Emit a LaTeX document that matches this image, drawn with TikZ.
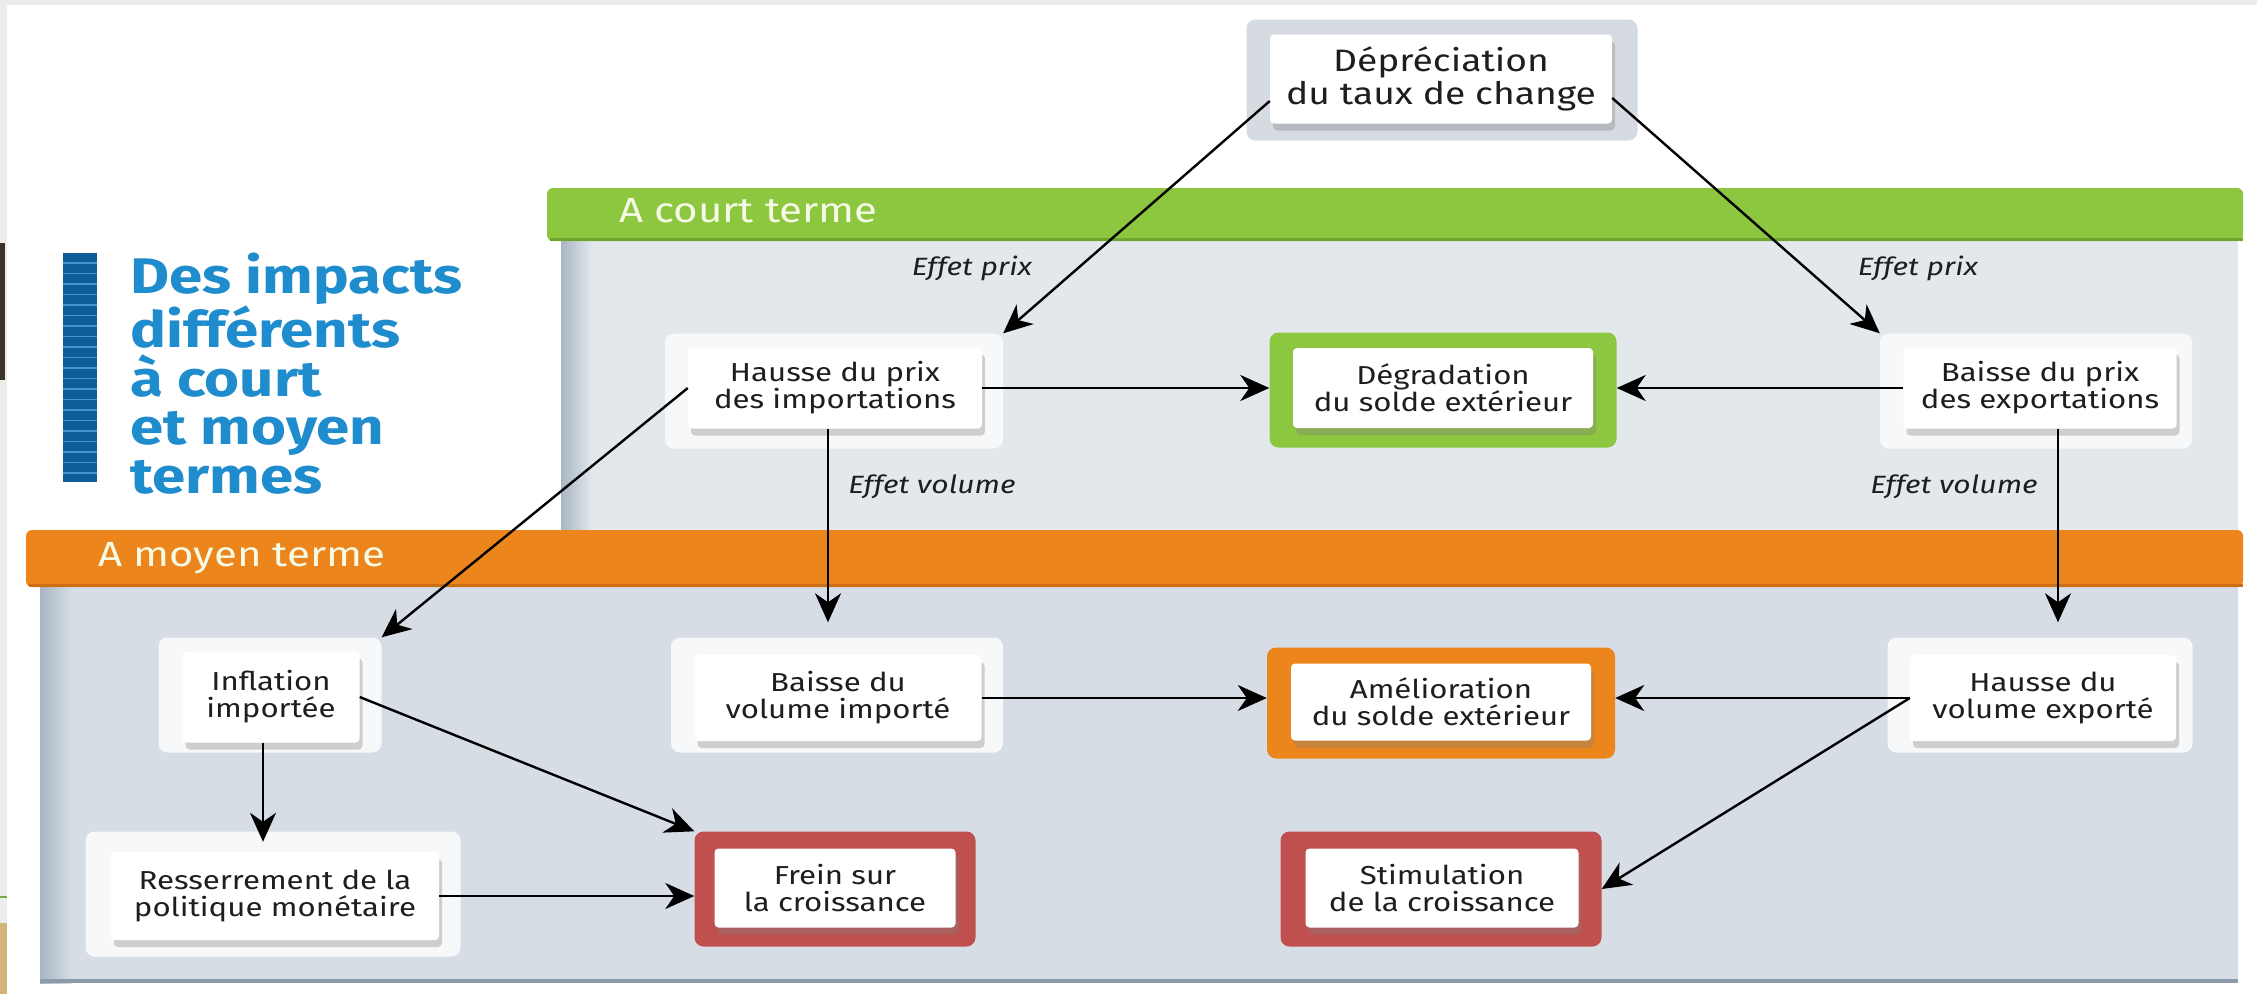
\documentclass[tikz,border=0pt]{standalone}
\usepackage{fontspec}
\setmainfont{Fira Sans}[FakeStretch=1.2]
\usetikzlibrary{arrows.meta,shadows}

\definecolor{titleblue}{RGB}{30,140,205}
\definecolor{barblue}{RGB}{14,92,152}
\definecolor{stripeblue}{RGB}{70,150,205}
\definecolor{courtgreen}{RGB}{141,198,63}
\definecolor{greenedge}{RGB}{112,165,45}
\definecolor{moyenorange}{RGB}{236,134,28}
\definecolor{orangeedge}{RGB}{205,110,20}
\definecolor{freinred}{RGB}{192,80,77}
\definecolor{depgray}{RGB}{214,219,225}
\definecolor{paleframe}{RGB}{247,248,249}
\definecolor{courtpanel}{RGB}{227,232,237}
\definecolor{moyenpanel}{RGB}{214,221,229}
\definecolor{paneledge}{RGB}{168,181,195}
\definecolor{panelline}{RGB}{140,155,170}
\definecolor{boxtext}{RGB}{30,30,30}
\definecolor{headtext}{RGB}{245,250,228}
\definecolor{edgegray}{RGB}{236,236,236}
\definecolor{slidebrown}{RGB}{60,50,40}
\definecolor{slidetan}{RGB}{210,180,120}
\definecolor{slidegreen}{RGB}{130,170,60}

\tikzset{
  frame/.style={rounded corners=9pt, inner sep=0pt},
  inbox/.style={fill=white, rounded corners=4pt, inner sep=0pt, align=center, text=boxtext,
    font=\fontsize{26}{27}\selectfont,
    drop shadow={shadow xshift=3pt, shadow yshift=-7pt, opacity=0.35}},
  arr/.style={-{Stealth[length=29pt,width=26pt,inset=9pt]}, line width=2.4pt},
  effet/.style={font=\itshape\fontsize{25}{25}\selectfont, text=boxtext},
  termhead/.style={font=\fontsize{35}{35}\selectfont, text=headtext, anchor=base west, inner sep=0pt}
}

\begin{document}
\begin{tikzpicture}[x=1pt,y=-1pt]
  \useasboundingbox (0,0) rectangle (2257,994);
  \fill[white] (0,0) rectangle (2257,994);
  \fill[edgegray] (0,0) rectangle (2257,5);
  \fill[edgegray] (0,0) rectangle (7,994);
  \fill[slidebrown] (0,243) rectangle (5,380);
  \draw[slidegreen, line width=2pt] (0,897) -- (7,897);
  \fill[slidetan] (0,923) rectangle (7,994);

  \fill[barblue] (63,253) rectangle (97,482);
  \foreach \y in {263,273.5,...,480}
    \draw[stripeblue, line width=1.2pt] (63,\y) -- (97,\y);
  \node[anchor=north west, align=left, inner sep=0pt, text=titleblue,
    font=\bfseries\fontsize{50}{48.6}\selectfont] (titre) at (130,253)
    {Des impacts\\différents\\à court\\et moyen\\termes};

  \fill[courtpanel] (561,237) rectangle (2238,540);
  \shade[left color=paneledge, right color=courtpanel] (561,237) rectangle (592,540);
  \fill[courtgreen, rounded corners=6pt] (547,188) rectangle (2243,241);
  \draw[greenedge, line width=3pt] (550,239) -- (2243,239);
  \node[termhead] (court) at (619,222) {A court terme};

  \fill[moyenpanel] (40,584) rectangle (2238,983);
  \shade[left color=paneledge, right color=moyenpanel] (40,584) rectangle (72,983);
  \draw[panelline, line width=4pt] (40,981) -- (2238,981);
  \fill[moyenorange, rounded corners=6pt] (26,530) rectangle (2243,587);
  \draw[orangeedge, line width=3pt] (29,585) -- (2243,585);
  \node[termhead] (moyen) at (98,566) {A moyen terme};

  \node[frame, fill=depgray, minimum width=391pt, minimum height=121pt] (depF) at (1442,80) {};
  \node[inbox, minimum width=342pt, minimum height=89pt, font=\fontsize{31}{33}\selectfont] (dep) at (1441,79) {Dépréciation\\du taux de change};

  \node[frame, fill=paleframe, minimum width=338pt, minimum height=115pt] (himpF) at (834,391) {};
  \node[inbox, minimum width=294pt, minimum height=81pt] (himp) at (835,388) {Hausse du prix\\des importations};
  \node[frame, fill=courtgreen, minimum width=347pt, minimum height=115pt] (degF) at (1443,390) {};
  \node[inbox, minimum width=300pt, minimum height=80pt] (deg) at (1443,388) {Dégradation\\du solde extérieur};
  \node[frame, fill=paleframe, minimum width=312pt, minimum height=115pt] (bexpF) at (2036,391) {};
  \node[inbox, minimum width=273pt, minimum height=81pt] (bexp) at (2040,388) {Baisse du prix\\des exportations};

  \node[frame, fill=paleframe, minimum width=223pt, minimum height=115pt] (inflF) at (270,695) {};
  \node[inbox, minimum width=177pt, minimum height=91pt] (infl) at (271,697) {Inflation\\importée};
  \node[frame, fill=paleframe, minimum width=332pt, minimum height=115pt] (bvolF) at (837,695) {};
  \node[inbox, minimum width=287pt, minimum height=86pt] (bvol) at (838,698) {Baisse du\\volume importé};
  \node[frame, fill=moyenorange, minimum width=348pt, minimum height=111pt] (amelF) at (1441,703) {};
  \node[inbox, minimum width=300pt, minimum height=77pt] (amel) at (1441,702) {Amélioration\\du solde extérieur};
  \node[frame, fill=paleframe, minimum width=305pt, minimum height=115pt] (hvolF) at (2040,695) {};
  \node[inbox, minimum width=266pt, minimum height=86pt] (hvol) at (2043,698) {Hausse du\\volume exporté};

  \node[frame, fill=paleframe, minimum width=375pt, minimum height=125pt] (ressF) at (273,894) {};
  \node[inbox, minimum width=328pt, minimum height=88pt] (ress) at (275,896) {Resserrement de la\\politique monétaire};
  \node[frame, fill=freinred, minimum width=281pt, minimum height=115pt] (freinF) at (835,889) {};
  \node[inbox, minimum width=241pt, minimum height=79pt] (frein) at (835,888) {Frein sur\\la croissance};
  \node[frame, fill=freinred, minimum width=321pt, minimum height=115pt] (stimF) at (1441,889) {};
  \node[inbox, minimum width=273pt, minimum height=79pt] (stim) at (1442,888) {Stimulation\\de la croissance};

  \node[effet] (prixG) at (972,268) {Effet prix};
  \node[effet] (prixD) at (1918,268) {Effet prix};
  \node[effet] (volG) at (932,487) {Effet volume};
  \node[effet] (volD) at (1954,487) {Effet volume};

  \draw[arr] ([yshift=-22pt]dep.west) -- (himpF.north east);
  \draw[arr] ([yshift=-19pt]dep.east) -- (bexpF.north west);
  \draw[arr] (himp.east) -- (himp.east -| degF.west);
  \draw[arr] (bexp.west) -- (bexp.west -| degF.east);
  \draw[arr, shorten >=15pt] ([xshift=-7pt]himp.south) -- ([xshift=-7pt]himp.south |- bvolF.north);
  \draw[arr, shorten >=15pt] ([xshift=18pt]bexp.south) -- ([xshift=18pt]bexp.south |- hvolF.north);
  \draw[arr] (himp.west) -- (inflF.north east);
  \draw[arr] (bvol.east) -- (bvol.east -| amelF.west);
  \draw[arr] (hvol.west) -- (hvol.west -| amelF.east);
  \draw[arr] (hvol.west) -- (stimF.east);
  \draw[arr] (infl.east) -- (freinF.north west);
  \draw[arr, shorten >=10pt] ([xshift=-8pt]infl.south) -- ([xshift=-8pt]infl.south |- ress.north);
  \draw[arr] (ress.east) -- (ress.east -| freinF.west);
\end{tikzpicture}
\end{document}
